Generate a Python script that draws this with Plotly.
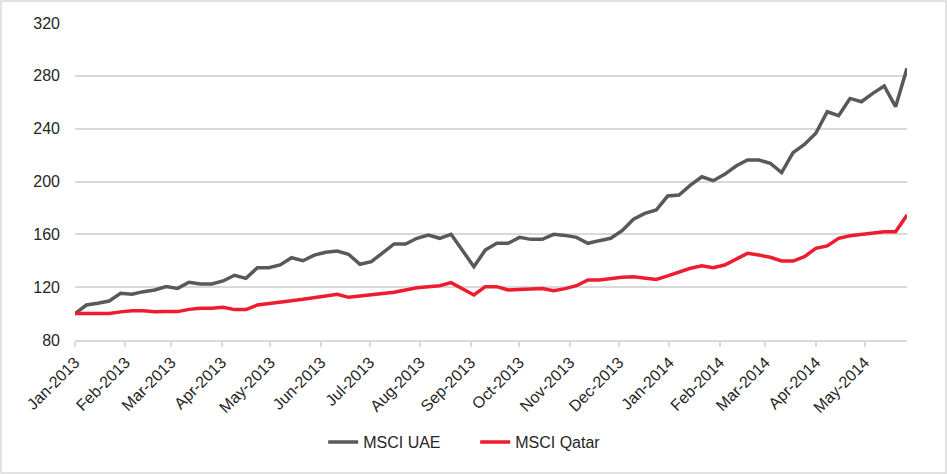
import pandas as pd
import plotly.graph_objects as go

# weekly index levels, rebased to 100 at the start of 2013
start_date = "2013-01-01"

msci_uae = [
    100.0, 106.5, 107.8, 109.5, 115.3, 114.6, 116.6, 117.9, 120.4, 119.1,
    123.7, 122.4, 122.4, 124.7, 129.0, 126.7, 134.7, 134.7, 136.8, 142.3,
    140.0, 144.3, 146.4, 147.4, 144.9, 137.3, 139.3, 146.4, 152.7, 152.7,
    157.0, 159.5, 157.0, 160.0, 148.0, 135.5, 148.1, 153.2, 153.2, 157.7,
    156.2, 156.2, 160.0, 159.2, 157.7, 153.2, 155.2, 157.0, 162.8, 171.4,
    175.9, 178.4, 189.0, 189.8, 197.3, 203.6, 200.6, 205.4, 211.7, 216.3,
    216.3, 213.8, 206.7, 221.8, 228.1, 236.5, 252.8, 249.8, 262.9, 260.4,
    266.7, 272.3, 256.6, 285.7,
]

msci_qatar = [
    100.0, 100.0, 100.0, 100.0, 101.3, 102.2, 102.2, 101.4, 101.5, 101.5,
    103.2, 104.0, 104.0, 104.7, 103.0, 103.0, 106.5, 107.8, 108.5, 109.8,
    110.8, 112.3, 113.3, 114.6, 112.3, 113.3, 114.1, 114.8, 116.1, 117.9,
    119.6, 120.4, 121.1, 123.4, 118.5, 114.1, 120.4, 120.4, 117.9, 118.4,
    118.4, 118.9, 117.4, 118.9, 121.1, 125.4, 125.4, 126.7, 127.5, 127.9,
    126.7, 125.9, 128.5, 131.7, 134.3, 136.2, 134.7, 136.8, 141.3, 145.6,
    144.3, 142.6, 139.8, 139.8, 143.1, 149.4, 151.2, 157.0, 158.9, 160.0,
    160.8, 162.0, 162.0, 174.6,
]

dates = pd.date_range(start_date, periods=len(msci_uae), freq="7D")

fig = go.Figure()
fig.add_trace(go.Scatter(x=dates, y=msci_uae, mode="lines", name="MSCI UAE",
                         line=dict(color="#58595B", width=3.5)))
fig.add_trace(go.Scatter(x=dates, y=msci_qatar, mode="lines", name="MSCI Qatar",
                         line=dict(color="#EE1C2E", width=3.5)))

# thin grey frame round the whole chart (plot area is 832 x 317 px)
fig.add_shape(type="rect", xref="paper", yref="paper",
              x0=-74 / 832, x1=871 / 832, y0=-133 / 317, y1=339 / 317,
              line=dict(color="#D9D9D9", width=1.5))

fig.update_layout(
    width=947, height=474,
    margin=dict(l=75, r=40, t=23, b=134, autoexpand=False),
    paper_bgcolor="white", plot_bgcolor="white",
    font=dict(family="Liberation Sans, Arial, sans-serif", size=16, color="#262626"),
    showlegend=True,
    legend=dict(orientation="h", x=0.481, xanchor="center", y=-0.322, yanchor="middle",
                font=dict(size=16), tracegroupgap=0, entrywidth=107),
)
fig.update_xaxes(
    type="date", range=[dates[0], dates[-1]], automargin=False,
    tickformat="%b-%Y", dtick="M1", tick0=start_date, tickangle=-45,
    ticks="outside", ticklen=5, tickcolor="#D9D9D9", tickwidth=1.5,
    showline=True, linecolor="#D9D9D9", linewidth=1.5,
    showgrid=False, zeroline=False,
)
fig.update_yaxes(
    range=[80, 320], dtick=40, tick0=80, automargin=False,
    showgrid=True, gridcolor="#D9D9D9", gridwidth=1.5,
    zeroline=False, showline=False, ticks="", ticklabelstandoff=14,
)

# drop the browser's default page margin so the chart sits at the window corner
fig.write_html("out.html", config={"displayModeBar": False},
               post_script="document.body.style.margin = '0';")
